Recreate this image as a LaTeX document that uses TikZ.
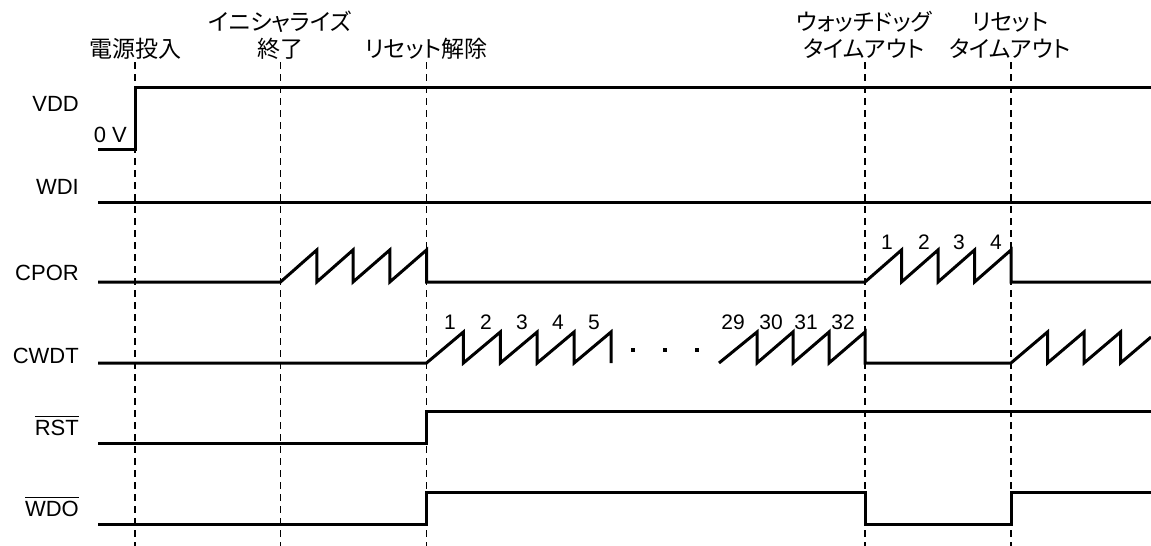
\documentclass[tikz,border=0pt]{standalone}
\usepackage{fontspec}
\setmainfont{Liberation Sans}
\newfontfamily\jp[RawFeature=+palt]{Noto Sans CJK JP}
\newcommand\ovbar[1]{\vbox{\hrule height 1.6pt\kern 2.4pt\hbox{#1}}}
\begin{document}
\begin{tikzpicture}[x=1pt,y=-1pt,
  sig/.style={line width=3pt, line join=miter, line cap=butt},
  guide/.style={line width=1.5pt, dash pattern=on 7pt off 5pt},
  lab/.style={anchor=base east, inner sep=0pt, font=\fontsize{22}{26}\selectfont},
  ev/.style={anchor=base, inner sep=0pt, font=\jp\fontsize{23}{27}\selectfont},
  num/.style={anchor=base, inner sep=0pt, font=\fontsize{21}{25}\selectfont},
  dot/.style={fill=black, minimum size=4pt, inner sep=0pt, draw=none}
]
\useasboundingbox (0,0) rectangle (1151,546);

% guide lines
\foreach \n/\x in {A/135,B/280.5,C/426.5,D/865,E/1011}{
  \coordinate (g\n-top) at (\x,62);
  \coordinate (g\n-bot) at (\x,546);
  \draw[guide] (g\n-top) -- (g\n-bot);
}

% event labels
\node[ev] (evA) at (135,57) {電源投入};
\node[ev] (evB1) at (280,30) {イニシャライズ};
\node[ev] (evB2) at (280,57) {終了};
\node[ev] (evC) at (426.5,57) {リセット解除};
\node[ev] (evD1) at (864,30) {ウォッチドッグ};
\node[ev] (evD2) at (864,57) {タイムアウト};
\node[ev] (evE1) at (1010,30) {リセット};
\node[ev] (evE2) at (1010,57) {タイムアウト};

% signal labels
\node[lab] (lVDD) at (79,111) {VDD};
\node[lab] (lWDI) at (79,194) {WDI};
\node[lab] (lCPOR) at (79,280) {CPOR};
\node[lab] (lCWDT) at (79,363) {CWDT};
\node[lab] (lRST) at (79,435) {\ovbar{RST}};
\node[lab] (lWDO) at (79,516) {\ovbar{WDO}};
\node[lab] (l0V) at (127,142) {0 V};

% VDD
\draw[sig] (98,149) -- (135,149) -- (135,87) -- (1151,87);
% WDI
\draw[sig] (98,202) -- (1151,202);
% CPOR
\draw[sig] (98,282) -- (280.5,282)
  -- (316.75,250) -- (316.75,282) -- (353,250) -- (353,282)
  -- (389.75,250) -- (389.75,282) -- (426.5,250) -- (426.5,282)
  -- (865,282)
  -- (901.5,250) -- (901.5,282) -- (938,250) -- (938,282)
  -- (974.5,250) -- (974.5,282) -- (1011,250) -- (1011,282)
  -- (1151,282);
% CWDT
\draw[sig] (98,363) -- (426.5,363)
  -- (463.4,332) -- (463.4,363) -- (500.3,332) -- (500.3,363)
  -- (537.2,332) -- (537.2,363) -- (574.1,332) -- (574.1,363)
  -- (611,332) -- (611,363);
\node[dot] (d1) at (633,350) {};
\node[dot] (d2) at (665,350) {};
\node[dot] (d3) at (697,350) {};
\draw[sig] (719,363)
  -- (757,332) -- (757,363) -- (793,332) -- (793,363)
  -- (829,332) -- (829,363) -- (865,332) -- (865,363)
  -- (1011,363)
  -- (1047.5,332) -- (1047.5,363) -- (1084,332) -- (1084,363)
  -- (1120.5,332) -- (1120.5,363) -- (1151,337);
% RST
\draw[sig] (98,443) -- (426.5,443) -- (426.5,411) -- (1151,411);
% WDO
\draw[sig] (98,524) -- (426.5,524) -- (426.5,492) -- (865,492)
  -- (865,524) -- (1011,524) -- (1011,492) -- (1151,492);

% counts
\foreach \t/\x in {1/450,2/486,3/522,4/558,5/594,29/733,30/771,31/806,32/843}{
  \node[num] (cw\t) at (\x,329.5) {\t};
}
\foreach \t/\x in {1/887,2/924,3/959,4/996}{
  \node[num] (cp\t) at (\x,249) {\t};
}
\end{tikzpicture}
\end{document}
